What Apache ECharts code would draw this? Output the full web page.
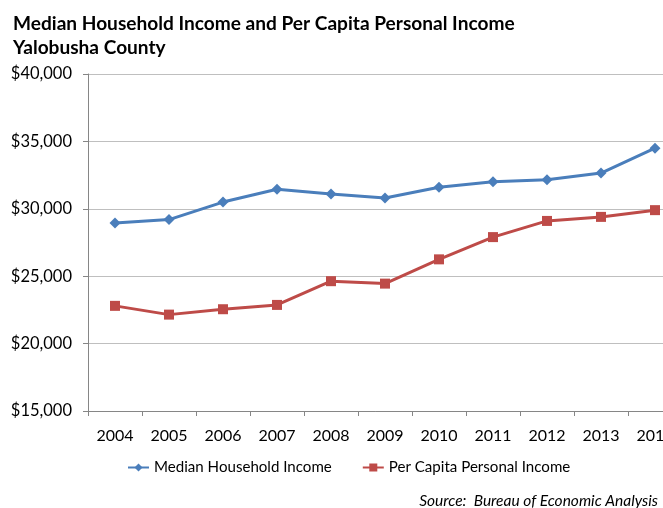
<!DOCTYPE html>
<html>
<head>
<meta charset="utf-8">
<script src="https://cdn.jsdelivr.net/npm/echarts@6/dist/echarts.min.js"></script>
<style>
html,body{margin:0;padding:0;background:#fff;}
#chart{width:663px;height:508px;}
</style>
</head>
<body>
<div id="chart"></div>
<script>
var years = ['2004','2005','2006','2007','2008','2009','2010','2011','2012','2013','2014'];
var medianHousehold = [28950, 29200, 30500, 31450, 31100, 30800, 31600, 32000, 32150, 32650, 34500];
var perCapita = [22800, 22150, 22550, 22870, 24630, 24450, 26250, 27900, 29100, 29400, 29900];
var seriesNames = ['Median Household Income', 'Per Capita Personal Income'];
var titleText = 'Median Household Income and Per Capita Personal Income\nYalobusha County';
var sourceText = 'Source:  Bureau of Economic Analysis';

var FONT = 'Lato';
var chart = echarts.init(document.getElementById('chart'), null, {renderer: 'canvas'});
chart.setOption({
  animation: false,
  backgroundColor: '#ffffff',
  title: [{
    text: titleText,
    left: 8, top: 7,
    textStyle: {fontFamily: FONT, fontWeight: 'bold', fontSize: 19.1, color: '#000', lineHeight: 24}
  }, {
    text: sourceText,
    right: 0, top: 488,
    textStyle: {fontFamily: FONT, fontStyle: 'italic', fontWeight: 'normal', fontSize: 15.5, color: '#000'}
  }],
  legend: {
    data: seriesNames,
    left: 122, top: 455,
    itemWidth: 21, itemHeight: 10, itemGap: 30,
    textStyle: {fontFamily: FONT, fontSize: 15.1, color: '#000'}
  },
  grid: {left: 88, top: 74, right: -19, height: 337, containLabel: false, outerBoundsMode: 'none'},
  xAxis: {
    type: 'category',
    data: years,
    boundaryGap: true,
    axisLine: {lineStyle: {color: '#868686', width: 1}},
    axisTick: {show: true, length: 5, alignWithLabel: false, lineStyle: {color: '#868686'}},
    axisLabel: {fontFamily: FONT, fontSize: 16, color: '#000', margin: 17}
  },
  yAxis: {
    type: 'value',
    min: 15000, max: 40000, interval: 5000,
    axisLine: {show: true, lineStyle: {color: '#868686', width: 1}},
    axisTick: {show: true, length: 5, lineStyle: {color: '#868686'}},
    splitLine: {show: true, lineStyle: {color: '#bfbfbf', width: 1}},
    axisLabel: {
      fontFamily: FONT, fontSize: 16.5, color: '#000', margin: 16,
      formatter: function (v) { return '$' + v.toLocaleString('en-US'); }
    }
  },
  series: [{
    name: seriesNames[0],
    type: 'line',
    data: medianHousehold,
    symbol: 'diamond', symbolSize: 11,
    lineStyle: {color: '#4A7EBB', width: 3},
    itemStyle: {color: '#4A7EBB'}
  }, {
    name: seriesNames[1],
    type: 'line',
    data: perCapita,
    symbol: 'rect', symbolSize: 10,
    lineStyle: {color: '#BE4B48', width: 3},
    itemStyle: {color: '#BE4B48'}
  }]
});
</script>
</body>
</html>
